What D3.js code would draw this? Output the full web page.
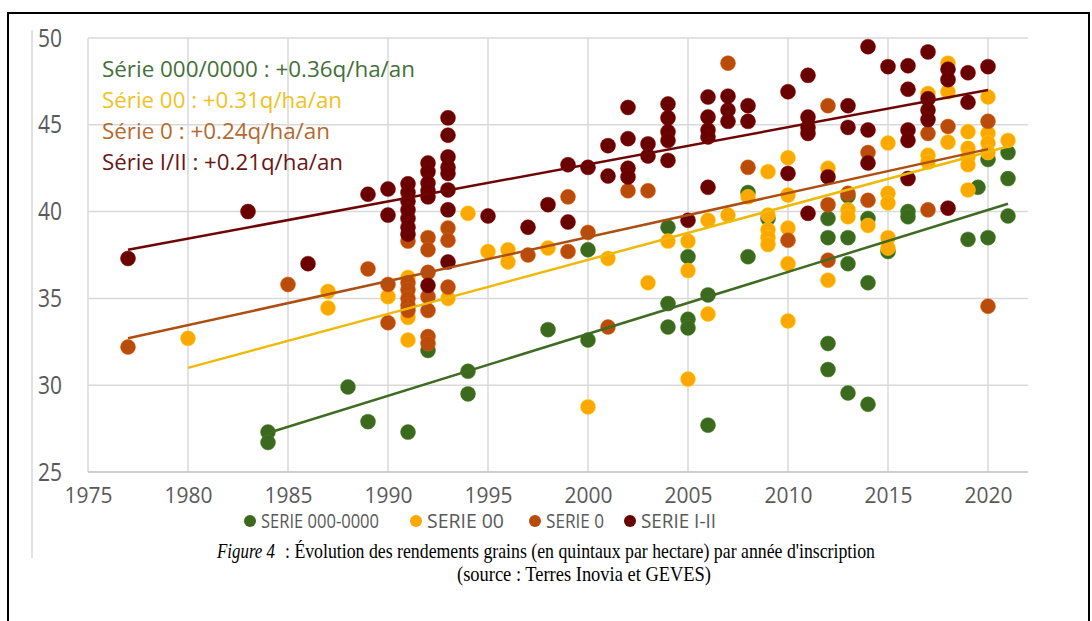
<!DOCTYPE html>
<html>
<head>
<meta charset="utf-8">
<script src="https://cdn.jsdelivr.net/npm/d3@7"></script>
<style>
  body { margin: 0; background: #fff; }
  svg { display: block; }
</style>
</head>
<body>
<svg id="chart" width="1092" height="621"></svg>
<script>
// [year, quintaux/ha]
const serie0000 = [
  [1984, 27.3], [1984, 26.7], [1988, 29.9], [1989, 27.9], [1991, 27.3], [1992, 32.0],
  [1994, 30.8], [1994, 29.5], [1998, 33.2], [2000, 37.8], [2000, 32.6],
  [2004, 39.1], [2004, 34.7], [2004, 33.35], [2005, 37.4], [2005, 33.8], [2005, 33.3],
  [2006, 35.2], [2006, 27.7], [2008, 41.1], [2008, 37.4], [2009, 39.6],
  [2012, 39.6], [2012, 38.5], [2012, 32.4], [2012, 30.9],
  [2013, 40.9], [2013, 38.5], [2013, 37.0], [2013, 29.55],
  [2014, 39.6], [2014, 35.9], [2014, 28.9], [2015, 37.7], [2016, 40.0], [2016, 39.7],
  [2019, 38.4], [2019.5, 41.4], [2020, 43.0], [2020, 38.5], [2021, 43.4], [2021, 41.9], [2021, 39.75]
];
const serie00 = [
  [1980, 32.7], [1987, 35.4], [1987, 34.45], [1990, 35.1], [1991, 36.2], [1991, 33.9], [1991, 32.6],
  [1993, 35.0], [1994, 39.9], [1995, 37.7], [1996, 37.8], [1996, 37.1], [1998, 37.9],
  [2000, 28.75], [2001, 37.3], [2003, 35.9], [2004, 38.3], [2005, 38.3], [2005, 36.6], [2005, 30.35],
  [2006, 39.5], [2006, 34.1], [2007, 39.8], [2008, 40.85],
  [2009, 42.3], [2009, 39.8], [2009, 38.95], [2009, 38.5], [2009, 38.1],
  [2010, 43.1], [2010, 40.95], [2010, 39.05], [2010, 37.0], [2010, 33.7],
  [2012, 42.5], [2012, 36.05], [2013, 40.1], [2013, 39.7], [2014, 39.2],
  [2015, 43.95], [2015, 41.05], [2015, 40.5], [2015, 38.5], [2015, 37.9],
  [2017, 46.8], [2017, 43.25], [2017, 42.85], [2018, 48.55], [2018, 46.9], [2018, 44.0],
  [2019, 44.6], [2019, 43.65], [2019, 43.15], [2019, 42.7], [2019, 41.25],
  [2020, 46.6], [2020, 44.5], [2020, 43.95], [2020, 43.4], [2021, 44.1]
];
const serie0 = [
  [1977, 32.2], [1985, 35.8], [1989, 36.7], [1990, 35.8], [1990, 33.6],
  [1991, 38.3], [1991, 35.9], [1991, 35.5], [1991, 35.0], [1991, 34.6], [1991, 34.3],
  [1992, 38.5], [1992, 37.8], [1992, 36.5], [1992, 35.1], [1992, 34.3], [1992, 32.8], [1992, 32.4],
  [1993, 39.05], [1993, 38.35], [1993, 35.65], [1997, 37.5], [1999, 40.85], [1999, 37.7],
  [2000, 38.8], [2001, 33.35], [2002, 41.2], [2003, 41.2], [2007, 48.55], [2008, 42.55],
  [2010, 38.35], [2012, 46.1], [2012, 40.4], [2012, 37.2], [2013, 41.05],
  [2014, 43.4], [2014, 40.65], [2017, 44.5], [2017, 40.1], [2018, 44.9], [2020, 45.2], [2020, 34.55]
];
const serieI_II = [
  [1977, 37.3], [1983, 40.0], [1986, 37.0], [1989, 41.0], [1990, 41.3], [1990, 39.8],
  [1991, 41.6], [1991, 41.1], [1991, 40.6], [1991, 40.1], [1991, 39.6], [1991, 39.1], [1991, 38.7],
  [1992, 42.8], [1992, 42.3], [1992, 41.65], [1992, 41.2], [1992, 40.85], [1992, 35.75],
  [1993, 45.4], [1993, 44.4], [1993, 43.15], [1993, 42.55], [1993, 42.2], [1993, 41.25], [1993, 40.1], [1993, 37.1],
  [1995, 39.75], [1997, 39.1], [1998, 40.4], [1999, 42.7], [1999, 39.4], [2000, 42.55],
  [2001, 43.8], [2001, 42.05], [2002, 46.0], [2002, 44.2], [2002, 42.5], [2002, 42.0],
  [2003, 43.9], [2003, 43.2], [2004, 46.2], [2004, 45.4], [2004, 44.6], [2004, 44.1], [2004, 42.95],
  [2005, 39.5], [2006, 46.6], [2006, 45.45], [2006, 44.7], [2006, 44.3], [2006, 41.4],
  [2007, 46.65], [2007, 45.85], [2007, 45.2], [2008, 46.1], [2008, 45.2],
  [2010, 46.9], [2010, 42.2], [2011, 47.85], [2011, 45.45], [2011, 44.85], [2011, 44.5], [2011, 39.9],
  [2012, 42.0], [2013, 46.1], [2013, 44.85], [2014, 49.5], [2014, 44.7], [2014, 42.8], [2015, 48.35],
  [2016, 48.4], [2016, 47.05], [2016, 44.7], [2016, 44.1], [2016, 41.9],
  [2017, 49.2], [2017, 46.5], [2017, 45.85], [2017, 45.3], [2018, 48.2], [2018, 47.6], [2018, 40.2],
  [2019, 48.0], [2019, 46.3], [2020, 48.35]
];

const seriesNames = ["SERIE 000-0000", "SERIE 00", "SERIE 0", "SERIE I-II"];
const seriesColors = ["#3b6a1e", "#fca802", "#b94c0a", "#6a0101"];
const lineColors = ["#3f6b22", "#efb90a", "#ad4e12", "#6e0505"];

// trend lines (start / end as drawn)
const trendStartYear = [1984, 1980, 1977, 1977];
const trendStartValue = [27.25, 31.0, 32.7, 37.8];
const trendEndYear = [2021, 2021, 2020, 2020];
const trendEndValue = [40.45, 43.75, 43.6, 47.0];

const trendLabels = [
  "Série 000/0000 : +0.36q/ha/an",
  "Série 00 : +0.31q/ha/an",
  "Série 0 : +0.24q/ha/an",
  "Série I/II : +0.21q/ha/an"
];
const trendLabelColors = ["#44703a", "#f0c21e", "#b5692f", "#6a1616"];

const xTicks = [1975, 1980, 1985, 1990, 1995, 2000, 2005, 2010, 2015, 2020];
const yTicks = [25, 30, 35, 40, 45, 50];

const svg = d3.select("#chart");

// frame of the page
svg.append("rect")
  .attr("x", 8).attr("y", 13)
  .attr("width", 1081).attr("height", 640)
  .attr("fill", "none")
  .attr("stroke", "#000")
  .attr("stroke-width", 2);

// faint left edge of the excel chart area
svg.append("line")
  .attr("x1", 32).attr("x2", 32)
  .attr("y1", 30).attr("y2", 558)
  .attr("stroke", "#d6d6d6")
  .attr("stroke-width", 1.5);

const x = d3.scaleLinear().domain([1975, 2022]).range([88, 1028]);
const y = d3.scaleLinear().domain([25, 50]).range([472, 38]);

// grid
const grid = svg.append("g");
grid.selectAll(".vgrid")
  .data(xTicks)
  .enter().append("line")
  .attr("x1", d => x(d)).attr("x2", d => x(d))
  .attr("y1", y(50)).attr("y2", y(25))
  .attr("stroke", "#d9d9d9")
  .attr("stroke-width", 1.5);
grid.selectAll(".hgrid")
  .data(yTicks)
  .enter().append("line")
  .attr("x1", x(1975)).attr("x2", x(2022))
  .attr("y1", d => y(d)).attr("y2", d => y(d))
  .attr("stroke", d => d === 25 ? "#bfbfbf" : "#d9d9d9")
  .attr("stroke-width", 1.5);

// axes (labels only)
const yAxis = svg.append("g")
  .attr("transform", `translate(${x(1975)},0)`)
  .call(d3.axisLeft(y).tickValues(yTicks).tickSize(0).tickPadding(26));
yAxis.select(".domain").remove();
yAxis.selectAll("text")
  .attr("font-family", "'Open Sans', sans-serif")
  .attr("font-size", 25)
  .attr("fill", "#595959")
  .attr("textLength", 24)
  .attr("lengthAdjust", "spacingAndGlyphs");

const xAxis = svg.append("g")
  .attr("transform", `translate(0,${y(25)})`)
  .call(d3.axisBottom(x).tickValues(xTicks).tickFormat(d3.format("d")).tickSize(0).tickPadding(16));
xAxis.select(".domain").remove();
xAxis.selectAll("text")
  .attr("font-family", "'Open Sans', sans-serif")
  .attr("font-size", 21)
  .attr("fill", "#595959")
  .attr("textLength", 48)
  .attr("lengthAdjust", "spacingAndGlyphs");

// points
const allSeries = [serie0000, serie00, serie0, serieI_II];
allSeries.forEach(function(data, i) {
  svg.append("g")
    .selectAll("circle")
    .data(data)
    .enter().append("circle")
    .attr("cx", d => x(d[0]))
    .attr("cy", d => y(d[1]))
    .attr("r", 7.5)
    .attr("fill", seriesColors[i])
    .attr("stroke", d3.color(seriesColors[i]).brighter(0.6))
    .attr("stroke-opacity", 0.5)
    .attr("stroke-width", 1);
});

// trend lines
for (let i = 0; i < 4; i++) {
  svg.append("line")
    .attr("x1", x(trendStartYear[i])).attr("y1", y(trendStartValue[i]))
    .attr("x2", x(trendEndYear[i])).attr("y2", y(trendEndValue[i]))
    .attr("stroke", lineColors[i])
    .attr("stroke-width", 2.5);
}

// trend annotations
const labelWidths = [313, 240, 228, 241];
trendLabels.forEach(function(t, i) {
  svg.append("text")
    .attr("x", 102)
    .attr("y", 77 + i * 31)
    .attr("font-family", "'Open Sans', sans-serif")
    .attr("font-size", 21)
    .attr("fill", trendLabelColors[i])
    .attr("textLength", labelWidths[i])
    .attr("lengthAdjust", "spacingAndGlyphs")
    .text(t);
});

// legend
const legendX = [250, 416, 535, 630];
const legendW = [118, 77, 58, 75];
const legend = svg.append("g");
seriesNames.forEach(function(name, i) {
  legend.append("circle")
    .attr("cx", legendX[i]).attr("cy", 521)
    .attr("r", 6)
    .attr("fill", seriesColors[i]);
  legend.append("text")
    .attr("x", legendX[i] + 11)
    .attr("y", 528)
    .attr("font-family", "'Open Sans', sans-serif")
    .attr("font-size", 20)
    .attr("fill", "#595959")
    .attr("textLength", legendW[i])
    .attr("lengthAdjust", "spacingAndGlyphs")
    .text(name);
});

// caption
const serif = "'Liberation Serif', 'Times New Roman', serif";
svg.append("text")
  .attr("x", 217).attr("y", 558)
  .attr("font-family", serif)
  .attr("font-size", 21)
  .attr("font-style", "italic")
  .attr("textLength", 58)
  .attr("lengthAdjust", "spacingAndGlyphs")
  .text("Figure 4");
svg.append("text")
  .attr("x", 285).attr("y", 558)
  .attr("font-family", serif)
  .attr("font-size", 21)
  .attr("textLength", 590)
  .attr("lengthAdjust", "spacingAndGlyphs")
  .text(": Évolution des rendements grains (en quintaux par hectare) par année d'inscription");

svg.append("text")
  .attr("x", 457).attr("y", 581)
  .attr("font-family", serif)
  .attr("font-size", 21)
  .attr("textLength", 254)
  .attr("lengthAdjust", "spacingAndGlyphs")
  .text("(source : Terres Inovia et GEVES)");
</script>
</body>
</html>
